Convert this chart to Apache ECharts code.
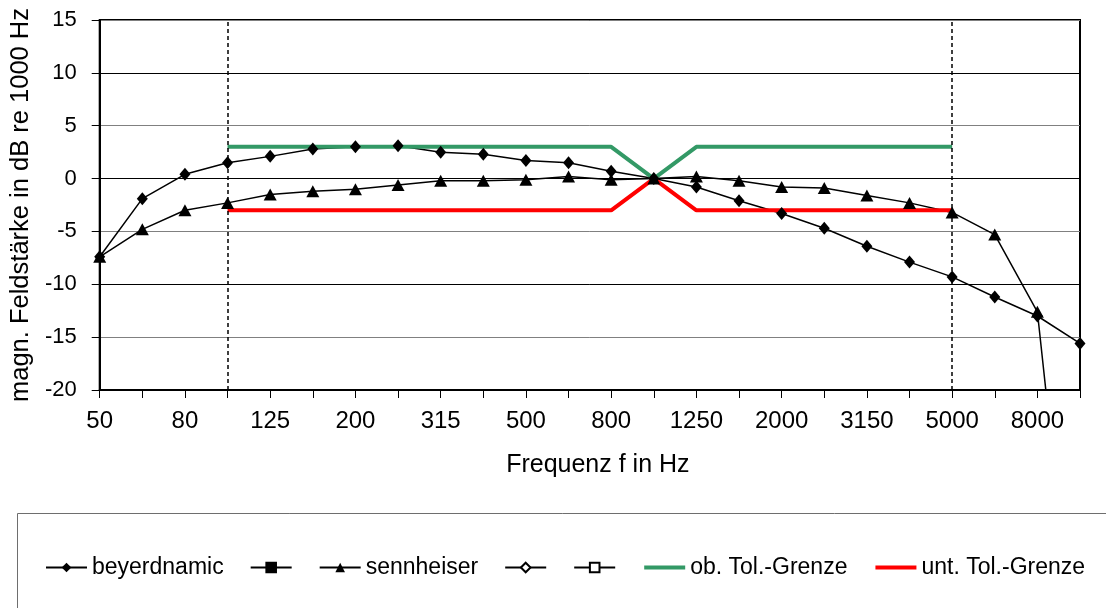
<!DOCTYPE html>
<html>
<head>
<meta charset="utf-8">
<script src="https://cdn.jsdelivr.net/npm/echarts@6/dist/echarts.min.js"></script>
<style>
    html, body { margin: 0; padding: 0; background: #fff; }
    #chart { width: 1106px; height: 608px; }
</style>
</head>
<body>
<div id="chart"></div>
<script>
// third-octave centre frequencies (Hz)
const frequencies = ['50', '63', '80', '100', '125', '160', '200', '250', '315', '400', '500', '630',
    '800', '1000', '1250', '1600', '2000', '2500', '3150', '4000', '5000', '6300', '8000', '10000'];

// relative field strength in dB re 1000 Hz
const beyerdynamic = [-7.4, -1.9, 0.4, 1.5, 2.1, 2.8, 3.0, 3.1, 2.5, 2.3, 1.7, 1.5,
    0.7, 0, -0.8, -2.1, -3.3, -4.7, -6.4, -7.9, -9.3, -11.2, -13.0, -15.6];
const sennheiser = [-7.4, -4.8, -3.0, -2.3, -1.5, -1.2, -1.0, -0.6, -0.2, -0.2, -0.1, 0.2,
    -0.1, 0, 0.2, -0.2, -0.8, -0.9, -1.6, -2.3, -3.2, -5.3, -12.6, -50];

// tolerance limits
const upperLimit = [null, null, null, 3, 3, 3, 3, 3, 3, 3, 3, 3,
    3, 0, 3, 3, 3, 3, 3, 3, 3, null, null, null];
const lowerLimit = [null, null, null, -3, -3, -3, -3, -3, -3, -3, -3, -3,
    -3, 0, -3, -3, -3, -3, -3, -3, -3, null, null, null];

// limits of the tolerance range (dashed lines)
const rangeLimits = ['100', '5000'];

const FONT = "'Liberation Sans', Arial, sans-serif";

const chart = echarts.init(document.getElementById('chart'), null, { renderer: 'canvas' });

function emptySeries(name, symbol, fill) {
    return {
        name: name,
        type: 'line',
        data: [],
        symbol: symbol,
        symbolSize: 10,
        itemStyle: { color: fill, borderColor: '#000', borderWidth: 1 },
        lineStyle: { color: '#000', width: 1.5 }
    };
}

function limitLegend(name) {
    return { name: name, itemStyle: { opacity: 0 }, lineStyle: { width: 4 } };
}

const options = {
    animation: false,
    backgroundColor: '#fff',
    textStyle: { fontFamily: FONT, color: '#000' },
    grid: {
        left: 99,
        right: 26,
        top: 20,
        bottom: 218,
        show: true,
        borderColor: '#000',
        borderWidth: 2
    },
    graphic: [{
        type: 'rect',
        shape: { x: 17.5, y: 513.5, width: 1200, height: 200 },
        style: { fill: 'none', stroke: '#6e6e6e', lineWidth: 1 },
        silent: true
    }],
    legend: {
        left: 45,
        top: 556,
        padding: 0,
        itemGap: 26,
        itemWidth: 41,
        itemHeight: 12,
        textStyle: { fontFamily: FONT, fontSize: 23, color: '#000' },
        formatter: function (name) {
            return name.trim();
        },
        data: ['beyerdnamic', ' ', 'sennheiser', '  ', '   ',
            limitLegend('ob. Tol.-Grenze'), limitLegend('unt. Tol.-Grenze')]
    },
    xAxis: {
        type: 'category',
        data: frequencies,
        boundaryGap: false,
        name: 'Frequenz f in Hz',
        nameLocation: 'middle',
        nameGap: 63,
        nameTextStyle: { fontFamily: FONT, fontSize: 25, color: '#000', padding: [0, 0, 0, 16] },
        axisLine: { onZero: false, lineStyle: { color: '#000', width: 2 } },
        axisTick: { show: true, interval: 0, length: 8, lineStyle: { color: '#000', width: 1 } },
        axisLabel: { interval: 1, margin: 19, fontFamily: FONT, fontSize: 24, color: '#000' },
        splitLine: { show: false }
    },
    yAxis: {
        type: 'value',
        min: -20,
        max: 15,
        interval: 5,
        name: 'magn. Feldstärke in dB re 1000 Hz',
        nameLocation: 'middle',
        nameGap: 64,
        nameTextStyle: { fontFamily: FONT, fontSize: 25.5, color: '#000' },
        axisLine: { show: true, onZero: false, lineStyle: { color: '#000', width: 2 } },
        axisTick: { show: true, length: 8, lineStyle: { color: '#000', width: 1 } },
        axisLabel: { margin: 23, fontFamily: FONT, fontSize: 22, color: '#000' },
        splitLine: { show: true, lineStyle: { color: ['#000', '#808080'], width: 1 } }
    },
    series: [
        {
            name: 'beyerdnamic',
            type: 'line',
            data: beyerdynamic,
            symbol: 'diamond',
            symbolSize: [11, 13],
            itemStyle: { color: '#000' },
            lineStyle: { color: '#000', width: 1.5 },
            markLine: {
                silent: true,
                symbol: 'none',
                label: { show: false },
                lineStyle: { color: '#000', type: [4, 3], width: 1.5 },
                data: rangeLimits.map(function (f) {
                    return { xAxis: f };
                })
            }
        },
        emptySeries(' ', 'rect', '#000'),
        {
            name: 'sennheiser',
            type: 'line',
            data: sennheiser,
            symbol: 'triangle',
            symbolSize: [13, 12],
            itemStyle: { color: '#000' },
            lineStyle: { color: '#000', width: 1.5 }
        },
        emptySeries('  ', 'diamond', '#fff'),
        emptySeries('   ', 'rect', '#fff'),
        {
            name: 'ob. Tol.-Grenze',
            type: 'line',
            data: upperLimit,
            showSymbol: false,
            symbol: 'none',
            itemStyle: { color: '#339966' },
            lineStyle: { color: '#339966', width: 4 }
        },
        {
            name: 'unt. Tol.-Grenze',
            type: 'line',
            data: lowerLimit,
            showSymbol: false,
            symbol: 'none',
            itemStyle: { color: '#ff0000' },
            lineStyle: { color: '#ff0000', width: 4 }
        }
    ]
};

chart.setOption(options);
</script>
</body>
</html>
